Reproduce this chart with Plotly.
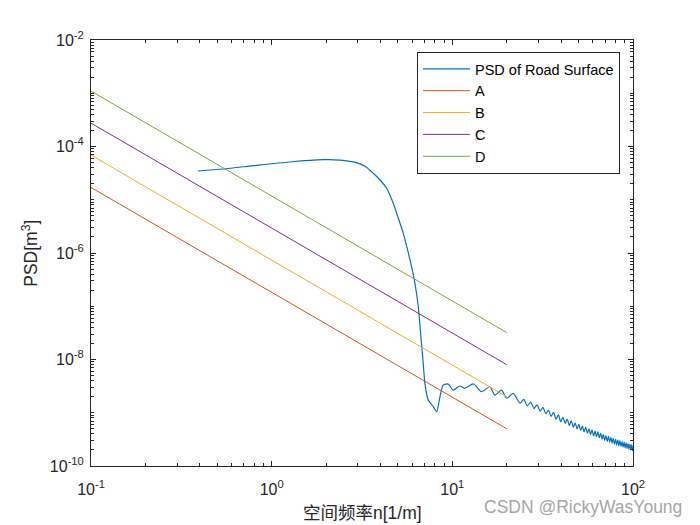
import plotly.graph_objects as go

# ---------------- data ----------------
n_psd = [0.39, 0.54, 0.83, 1.26, 1.93, 2.39, 2.95, 3.3, 3.65, 3.98, 4.33, 4.71, 5.02, 5.35,
         5.83, 6.21, 6.48, 6.70, 6.90, 7.05, 7.36, 7.84, 8.19, 8.54, 8.91, 9.49, 10.1,
         11.0, 11.7, 13.1, 14.5, 16.1, 17.2, 18.7, 20.0, 21.7, 23.7,
         24.85, 26.0, 27.15, 28.3, 29.45, 30.6, 31.75, 32.9, 34.05, 35.2, 36.35, 37.5,
         38.65, 39.8, 40.95, 42.1, 43.25, 44.4, 45.55, 46.7, 47.85, 49.0, 50.15, 51.3,
         52.45, 53.6, 54.75, 55.9, 57.05, 58.2, 59.35, 60.5, 61.65, 62.8, 63.95, 65.1,
         66.25, 67.4, 68.55, 69.7, 70.85, 72.0, 73.15, 74.3, 75.45, 76.6, 77.75, 78.9,
         80.05, 81.2, 82.35, 83.5, 84.65, 85.8, 86.95, 88.1, 89.25, 90.4, 91.55, 92.7,
         93.85, 95.0, 96.15, 97.3, 98.45, 99.6, 100.0]
psd_road = [3.47e-5, 3.78e-5, 4.44e-5, 5.12e-5, 5.65e-5, 5.57e-5, 4.97e-5, 4.2e-5, 3.14e-5,
            2.35e-5, 1.64e-5, 8.57e-6, 4.54e-6, 2.34e-6,
            7.4e-7, 2.70e-7, 9.8e-8, 2.68e-8, 8.5e-9, 3.57e-9, 1.73e-9, 1.30e-9, 1.05e-9,
            2.0e-9, 3.32e-9, 3.45e-9, 2.67e-9,
            3.18e-9, 2.88e-9, 3.47e-9, 2.48e-9, 3.08e-9, 2.15e-9, 2.67e-9, 1.87e-9, 2.32e-9, 1.51e-9,
            1.78e-9, 1.35e-9, 1.58e-9, 1.20e-9, 1.41e-9, 1.07e-9, 1.26e-9, 9.55e-10, 1.12e-9,
            8.51e-10, 1.02e-9, 7.59e-10,
            9.12e-10, 6.76e-10, 8.32e-10, 6.31e-10, 7.59e-10, 5.75e-10, 7.08e-10, 5.37e-10,
            6.46e-10, 4.95e-10, 6.03e-10, 4.68e-10,
            5.62e-10, 4.37e-10, 5.37e-10, 4.12e-10, 5.01e-10, 3.89e-10, 4.79e-10, 3.67e-10,
            4.52e-10, 3.55e-10, 4.37e-10, 3.39e-10,
            4.12e-10, 3.20e-10, 3.94e-10, 3.02e-10, 3.72e-10, 2.88e-10, 3.59e-10, 2.79e-10,
            3.47e-10, 2.69e-10, 3.31e-10, 2.57e-10,
            3.16e-10, 2.48e-10, 3.09e-10, 2.40e-10, 2.99e-10, 2.34e-10, 2.88e-10, 2.26e-10,
            2.82e-10, 2.19e-10, 2.72e-10, 2.14e-10,
            2.63e-10, 2.07e-10, 2.57e-10, 2.02e-10, 2.51e-10, 1.95e-10, 2.19e-10]

n_grade = [0.1, 20]
grade_A = [1.7e-5, 5.0e-10]
grade_B = [6.9e-5, 2.0e-9]
grade_C = [2.75e-4, 8.0e-9]
grade_D = [1.1e-3, 3.2e-8]

x_tickvals = [0.1, 1, 10, 100]
x_ticktext = ['10<sup>-1</sup>', '10<sup>0</sup>', '10<sup>1</sup>', '10<sup>2</sup>']
y_tickvals = [1e-10, 1e-8, 1e-6, 1e-4, 1e-2]
y_ticktext = ['10<sup>-10</sup>', '10<sup>-8</sup>', '10<sup>-6</sup>', '10<sup>-4</sup>', '10<sup>-2</sup>']

# ---------------- styling ----------------
FONT = "Liberation Sans, Arial, Noto Sans CJK SC, sans-serif"
AX = '#262626'
colors = ['#0072BD', '#D95319', '#EDB120', '#7E2F8E', '#77AC30']

x_minor = [k * 10.0 ** d for d in range(-1, 2) for k in range(2, 10)]
y_minor = [k * 10.0 ** d for d in range(-10, -2) for k in range(1, 10)
           if not (k == 1 and d % 2 == 0)]

fig = go.Figure()
fig.add_trace(go.Scatter(x=n_psd, y=psd_road, mode='lines', name='PSD of Road Surface',
                         line=dict(color=colors[0], width=1.2, shape='spline', smoothing=0.7)))
for name, vals, c in [('A', grade_A, colors[1]), ('B', grade_B, colors[2]),
                      ('C', grade_C, colors[3]), ('D', grade_D, colors[4])]:
    fig.add_trace(go.Scatter(x=n_grade, y=vals, mode='lines', name=name,
                             line=dict(color=c, width=1)))

axis_common = dict(
    showline=True, linecolor=AX, linewidth=1, mirror='allticks',
    ticks='inside', ticklen=5, tickwidth=1, tickcolor=AX,
    showgrid=False, zeroline=False,
    tickfont=dict(family=FONT, size=16, color=AX),
)

fig.update_xaxes(type='log', range=[-1, 2], tickmode='array',
                 tickvals=x_tickvals, ticktext=x_ticktext, ticklabelstandoff=9,
                 minor=dict(ticks='inside', ticklen=3, tickcolor=AX, tickmode='array',
                            tickvals=x_minor, showgrid=False),
                 **axis_common)
fig.update_yaxes(type='log', range=[-10, -2], tickmode='array',
                 tickvals=y_tickvals, ticktext=y_ticktext, ticklabelstandoff=3,
                 minor=dict(ticks='inside', ticklen=3, tickcolor=AX, tickmode='array',
                            tickvals=y_minor, showgrid=False),
                 **axis_common)

# the page body adds an 8px offset; margins are chosen so the plot area
# lands at x 91..633, y 40..466 in the 700x525 window
fig.update_layout(
    width=700, height=525,
    margin=dict(l=83, r=75, t=32, b=67),
    paper_bgcolor='white', plot_bgcolor='white',
    font=dict(family=FONT, color=AX),
    showlegend=True,
    legend=dict(x=0.976, y=0.972, xanchor='right', yanchor='top',
                bgcolor='white', bordercolor=AX, borderwidth=1,
                font=dict(family=FONT, size=14.5, color='black'),
                itemwidth=47, tracegroupgap=0),
    annotations=[
        dict(text='空间频率n[1/m]', xref='paper', yref='paper', x=0.5, y=-0.110,
             xanchor='center', yanchor='middle', showarrow=False,
             font=dict(family=FONT, size=17.5, color=AX)),
        dict(text='PSD[m<sup>3</sup>]', xref='paper', yref='paper', x=-0.113, y=0.5,
             xanchor='center', yanchor='middle', textangle=-90, showarrow=False,
             font=dict(family=FONT, size=17.5, color=AX)),
        dict(text='CSDN @RickyWasYoung', xref='paper', yref='paper', x=1.094, y=-0.096,
             xanchor='right', yanchor='middle', showarrow=False,
             font=dict(family=FONT, size=17.5, color='#a6a6a6')),
    ],
)

fig.write_html("out.html")
